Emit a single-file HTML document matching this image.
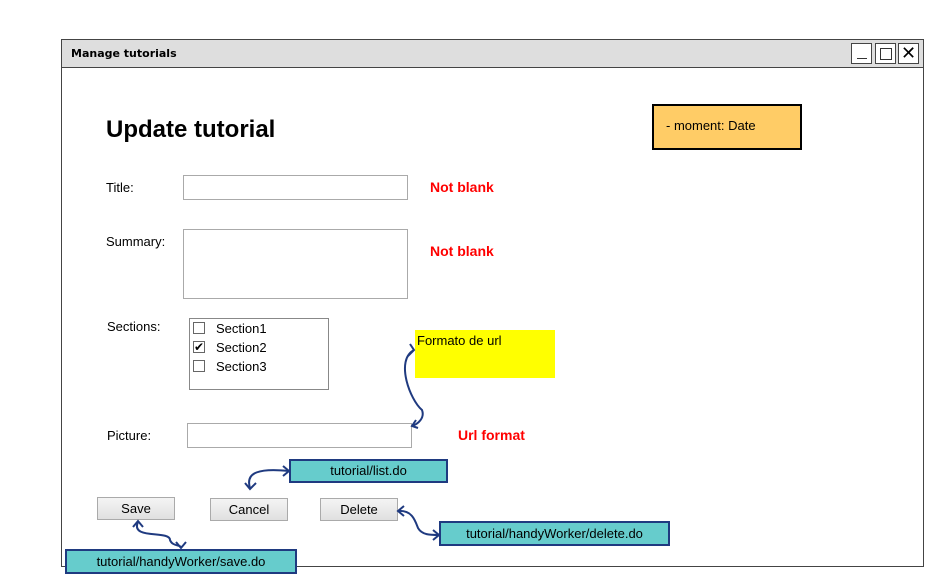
<!DOCTYPE html>
<html><head><style>
body{margin:0;width:949px;height:578px;background:#fff;position:relative;overflow:hidden;font-family:"Liberation Sans",sans-serif;font-size:13px;color:#000}
.a{position:absolute;box-sizing:border-box}
.in{border:1px solid #aaa;background:#fff}
.btn{border:1px solid #aaa;background:linear-gradient(#f4f4f4,#e0e0e0);text-align:center;line-height:21px}
.cy{background:#66cccc;border:2px solid #1f3a80;text-align:center;font-size:13px}
.red{color:#f00;font-weight:bold;font-size:14px}
.cb{width:12px;height:12px;border:1px solid #666;background:#fff}
</style></head><body>
<div class="a" style="left:61px;top:39px;width:863px;height:528px;border:1px solid #444"></div>
<div class="a" style="left:61px;top:39px;width:863px;height:29px;background:#dedede;border:1px solid #444;font-family:'Comic Sans MS','DejaVu Sans',sans-serif;font-size:11px;font-weight:bold;padding:7px 0 0 9px">Manage tutorials</div>
<div class="a" style="left:851px;top:43px;width:21px;height:21px;border:1px solid #444;background:#fff"><div class="a" style="left:5px;top:14px;width:10px;height:1px;background:#333"></div></div>
<div class="a" style="left:875px;top:43px;width:21px;height:21px;border:1px solid #444;background:#fff"><div class="a" style="left:4px;top:4px;width:12px;height:12px;border:1px solid #333"></div></div>
<div class="a" style="left:898px;top:43px;width:21px;height:21px;border:1px solid #444;background:#fff;text-align:center;font-size:18px;line-height:19px">✕</div>

<div class="a" style="left:106px;top:116px;font-size:24px;font-weight:bold">Update tutorial</div>
<div class="a" style="left:652px;top:104px;width:150px;height:46px;background:#ffcc66;border:2px solid #000;padding:12px 0 0 12px">- moment: Date</div>

<div class="a" style="left:106px;top:180px">Title:</div>
<div class="a in" style="left:183px;top:175px;width:225px;height:25px"></div>
<div class="a red" style="left:430px;top:179px">Not blank</div>

<div class="a" style="left:106px;top:234px">Summary:</div>
<div class="a in" style="left:183px;top:229px;width:225px;height:70px"></div>
<div class="a red" style="left:430px;top:243px">Not blank</div>

<div class="a" style="left:107px;top:319px">Sections:</div>
<div class="a in" style="left:189px;top:318px;width:140px;height:72px;border-color:#888"></div>
<div class="a cb" style="left:193px;top:322px"></div><div class="a" style="left:216px;top:321px">Section1</div>
<div class="a cb" style="left:193px;top:341px;font-size:12px;line-height:10px;text-align:center">✔</div><div class="a" style="left:216px;top:340px">Section2</div>
<div class="a cb" style="left:193px;top:360px"></div><div class="a" style="left:216px;top:359px">Section3</div>

<div class="a" style="left:415px;top:330px;width:140px;height:48px;background:#ffff00;padding:3px 0 0 2px">Formato de url</div>

<div class="a" style="left:107px;top:428px">Picture:</div>
<div class="a in" style="left:187px;top:423px;width:225px;height:25px"></div>
<div class="a red" style="left:458px;top:427px">Url format</div>

<div class="a cy" style="left:289px;top:459px;width:159px;height:24px;line-height:20px">tutorial/list.do</div>
<div class="a btn" style="left:97px;top:497px;width:78px;height:23px">Save</div>
<div class="a btn" style="left:210px;top:498px;width:78px;height:23px">Cancel</div>
<div class="a btn" style="left:320px;top:498px;width:78px;height:23px">Delete</div>
<div class="a cy" style="left:439px;top:521px;width:231px;height:25px;line-height:21px">tutorial/handyWorker/delete.do</div>
<div class="a cy" style="left:65px;top:549px;width:232px;height:25px;line-height:21px">tutorial/handyWorker/save.do</div>

<svg class="a" style="left:0;top:0" width="949" height="578" fill="none" stroke="#1f3a80" stroke-width="2">
<path d="M414,350 C395,360 410,400 422,410 C425,418 418,424 412,426"/>
<path d="M408,356 L414,350 L410,344 M418,428 L412,426 L416,420"/>
<path d="M289,471 C260,468 245,472 250,488"/>
<path d="M283,466 L289,471 L283,476 M245,483 L250,489 L256,483"/>
<path d="M138,522 C130,540 170,530 170,540 C172,546 180,545 181,547"/>
<path d="M133,527 L138,521 L143,527 M176,542 L181,548 L186,542"/>
<path d="M398,511 C412,510 415,520 418,528 C422,535 430,535 439,535"/>
<path d="M404,506 L398,511 L404,516 M433,530 L439,535 L433,540"/>
</svg>
</body></html>
